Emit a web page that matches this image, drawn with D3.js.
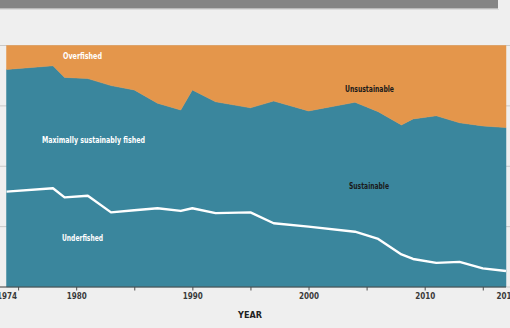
<!DOCTYPE html>
<html>
<head>
<meta charset="utf-8">
<script src="https://cdn.jsdelivr.net/npm/d3@7"></script>
<style>
  html, body { margin: 0; padding: 0; background: #efefef; }
  svg { display: block; }
  text { font-family: "Liberation Sans Narrow", "DejaVu Sans Condensed", "Roboto Condensed", sans-serif; font-weight: bold; }
</style>
</head>
<body>
<svg id="chart" width="510" height="328"></svg>
<script>
// Share of assessed fish stocks by status, 1974-2017 (percent)
const years = [1974, 1978, 1979, 1981, 1983, 1985, 1987, 1989, 1990, 1992, 1995,
               1997, 2000, 2004, 2006, 2008, 2009, 2011, 2013, 2015, 2017];
// stocks within biologically sustainable levels
const sustainable = [90.1, 91.6, 86.8, 86.3, 83.4, 81.6, 76.1, 73.3, 81.6, 76.7, 74.2,
                     77.0, 72.9, 76.5, 72.6, 67.1, 69.6, 70.9, 68.0, 66.7, 66.0];
// underfished stocks (part of the sustainable share)
const underfished = [39.5, 40.9, 37.1, 37.8, 30.9, 31.8, 32.6, 31.5, 32.6, 30.6, 30.9,
                     26.4, 25.0, 22.9, 19.9, 13.5, 11.6, 10.0, 10.4, 7.7, 6.6];

const tickYears = [1975, 1980, 1985, 1990, 1995, 2000, 2005, 2010, 2015];
const labelYears = [1974, 1980, 1990, 2000, 2010, 2017];
const gridPct = [0, 25, 50, 75, 100];

const rows = years.map((y, i) => ({
  year: y,
  underfished: underfished[i],
  maximal: sustainable[i] - underfished[i],
  overfished: 100 - sustainable[i]
}));

const svg = d3.select("#chart");
const W = 510, H = 328;
const plot = { left: 6.5, right: 506, top: 45.5, bottom: 287 };

const x = d3.scaleLinear().domain([1974, 2017]).range([plot.left, plot.right]);
const y = d3.scaleLinear().domain([0, 100]).range([plot.bottom, plot.top]);

const colors = { orange: "#e4964b", teal: "#3a869d" };

// header bar
svg.append("rect").attr("x", 0).attr("y", 9).attr("width", 499).attr("height", 1).attr("fill", "#dcdcdc");
svg.append("rect").attr("x", 0).attr("y", 0).attr("width", 498).attr("height", 8.5).attr("fill", "#858585");

// gridlines (visible in the margins beside the areas)
svg.append("g").selectAll("line").data(gridPct).join("line")
  .attr("x1", 0).attr("x2", W)
  .attr("y1", d => y(d)).attr("y2", d => y(d))
  .attr("stroke", "#c9c9c9").attr("stroke-width", 1);

// stacked areas
const stack = d3.stack().keys(["underfished", "maximal", "overfished"]);
const series = stack(rows);
const area = d3.area()
  .x(d => x(d.data.year))
  .y0(d => y(d[0]))
  .y1(d => y(d[1]));
const fillFor = { underfished: colors.teal, maximal: colors.teal, overfished: colors.orange };

svg.append("g").selectAll("path").data(series).join("path")
  .attr("d", area)
  .attr("fill", d => fillFor[d.key])
  .attr("stroke", d => fillFor[d.key])
  .attr("stroke-width", 0.5);

// underfished boundary line
const line = d3.line().x(d => x(d.year)).y(d => y(d.underfished));
svg.append("path").datum(rows)
  .attr("d", line)
  .attr("fill", "none")
  .attr("stroke", "#ffffff")
  .attr("stroke-width", 2.4)
  .attr("stroke-linejoin", "round");

// x axis
svg.append("line")
  .attr("x1", 0).attr("x2", plot.right)
  .attr("y1", plot.bottom).attr("y2", plot.bottom)
  .attr("stroke", "#4d4d4d").attr("stroke-width", 1.2);

const tickAxis = d3.axisBottom(x).tickValues(tickYears).tickSize(3.5).tickFormat("");
const gTicks = svg.append("g").attr("transform", `translate(0,${plot.bottom})`).call(tickAxis);
gTicks.select(".domain").remove();
gTicks.selectAll("line").attr("stroke", "#4d4d4d");

const labelAxis = d3.axisBottom(x).tickValues(labelYears).tickSize(0).tickPadding(6).tickFormat(d3.format("d"));
const gLabels = svg.append("g").attr("transform", `translate(0,${plot.bottom})`).call(labelAxis);
gLabels.select(".domain").remove();
gLabels.selectAll("text")
  .attr("fill", "#3a3a3a")
  .style("font-size", "8px")
  .style("font-family", "'Liberation Sans Narrow', 'DejaVu Sans Condensed', sans-serif")
  .style("font-weight", "bold");

svg.append("text")
  .attr("x", 250).attr("y", 318)
  .attr("text-anchor", "middle")
  .attr("fill", "#222")
  .style("font-size", "9px")
  .text("YEAR");

// series labels
const labels = [
  { text: "Overfished", cx: 82.5, cy: 59, w: 39, color: "#ffffff" },
  { text: "Maximally sustainably fished", cx: 93.5, cy: 143, w: 103, color: "#ffffff" },
  { text: "Unsustainable", cx: 369.5, cy: 92, w: 49, color: "#1a1a1a" },
  { text: "Sustainable", cx: 369, cy: 189, w: 40, color: "#1a1a1a" },
  { text: "Underfished", cx: 82.5, cy: 241, w: 41, color: "#ffffff" }
];
svg.append("g").selectAll("text").data(labels).join("text")
  .attr("x", d => d.cx - d.w / 2)
  .attr("y", d => d.cy)
  .attr("textLength", d => d.w)
  .attr("lengthAdjust", "spacingAndGlyphs")
  .attr("fill", d => d.color)
  .style("font-size", "9.5px")
  .text(d => d.text);
</script>
</body>
</html>
